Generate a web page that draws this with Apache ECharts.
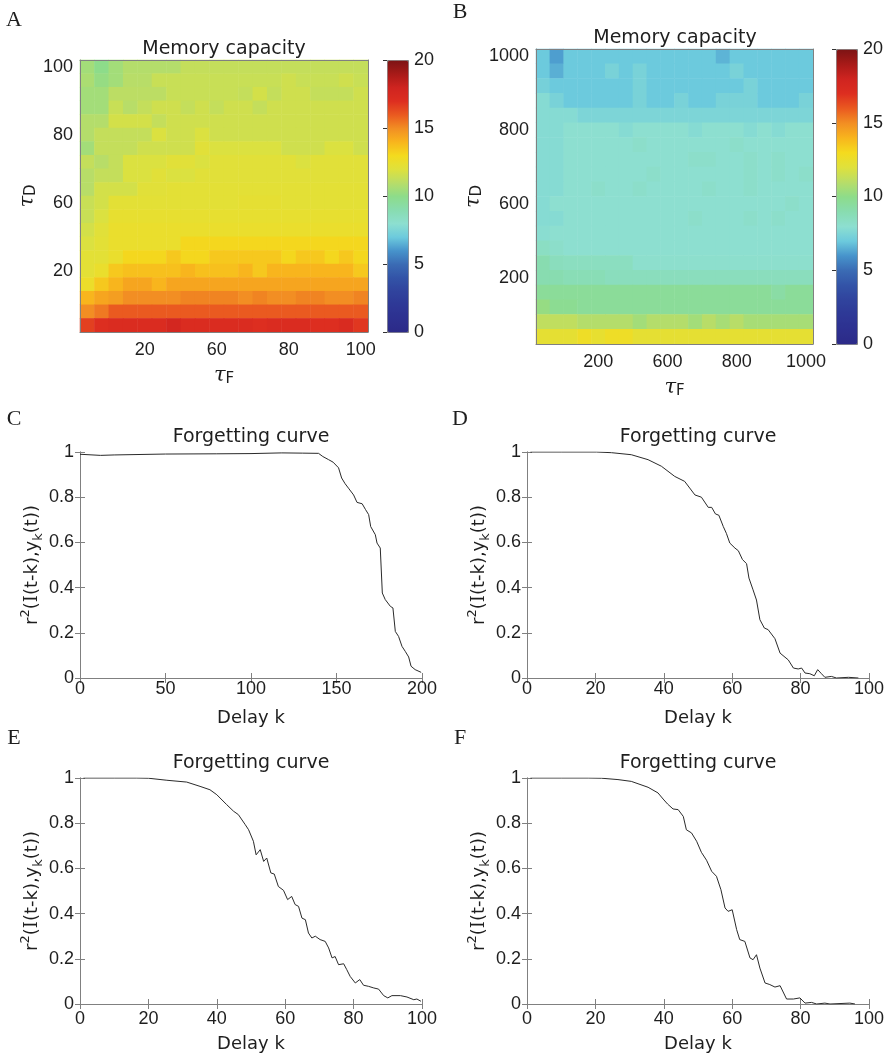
<!DOCTYPE html>
<html>
<head>
<meta charset="utf-8">
<script src="https://cdn.jsdelivr.net/npm/echarts@6/dist/echarts.min.js"></script>
<style>
html, body { margin: 0; padding: 0; background: #fff; }
#main { width: 890px; height: 1060px; }
</style>
</head>
<body>
<div id="main"></div>
<script>
// memory capacity maps, rows from top (largest tau_D) to bottom
var mcA = [
    [10.5,10.0,10.5,10.9,10.9,10.9,10.9,11.3,11.3,11.3,11.3,11.3,11.3,11.3,11.3,11.3,11.3,11.3,11.3,11.3],
    [10.7,10.2,10.5,11.0,11.0,11.4,11.4,11.4,11.4,11.4,11.4,11.4,11.4,11.4,11.6,11.4,11.4,11.4,11.6,11.4],
    [10.5,10.5,11.1,11.1,11.1,11.1,11.4,11.4,11.4,11.4,11.4,11.3,11.7,11.3,11.6,11.6,11.3,11.3,11.3,11.6],
    [10.5,10.5,11.4,11.0,11.3,11.6,11.6,11.3,11.6,11.3,11.6,11.6,11.3,11.6,11.6,11.6,11.6,11.6,11.6,11.6],
    [10.9,10.9,11.7,11.7,11.7,11.3,11.6,11.6,11.6,11.6,11.6,11.6,11.6,11.6,11.6,11.6,11.6,11.6,11.6,11.6],
    [10.9,11.3,11.3,11.3,11.3,11.9,11.6,11.6,11.9,11.6,11.6,11.6,11.6,11.6,11.6,11.6,11.6,11.6,11.6,11.6],
    [10.5,11.3,11.3,11.3,11.6,11.6,11.6,11.6,12.1,11.9,11.9,11.9,11.9,11.9,11.6,11.6,11.6,11.9,11.9,11.6],
    [11.3,11.0,11.3,11.9,11.9,11.9,12.1,12.1,11.9,12.1,12.1,12.1,12.1,12.1,12.1,11.9,12.1,12.1,12.1,12.1],
    [11.0,11.3,11.3,11.9,11.9,12.1,11.9,11.9,12.1,12.1,12.1,12.1,12.1,12.1,12.1,12.1,12.1,12.1,12.1,12.1],
    [11.0,11.7,11.7,11.7,12.1,12.1,12.2,12.2,12.2,12.2,12.2,12.2,12.2,12.2,12.2,12.2,12.2,12.2,12.2,12.2],
    [11.4,11.7,12.2,12.2,12.2,12.2,12.2,12.2,12.2,12.2,12.2,12.3,12.3,12.3,12.2,12.2,12.2,12.2,12.2,12.2],
    [11.4,11.9,12.4,12.4,12.4,12.4,12.4,12.4,12.4,12.4,12.4,12.4,12.4,12.4,12.4,12.4,12.4,12.4,12.4,12.4],
    [11.7,12.1,12.5,12.5,12.5,12.5,12.5,12.5,12.5,12.5,12.5,12.5,12.5,12.5,12.5,12.5,12.5,12.5,12.5,12.5],
    [11.9,12.2,12.5,12.5,12.5,12.5,12.5,13.1,13.1,13.1,13.1,13.1,13.1,13.1,13.1,13.1,13.1,13.1,13.1,13.1],
    [12.2,12.2,12.5,13.1,13.1,13.1,13.5,13.1,13.1,13.5,13.5,13.5,13.5,13.5,13.1,13.5,13.5,13.1,13.5,13.1],
    [12.2,12.5,13.5,13.7,13.7,13.7,13.7,14.0,13.7,13.7,13.7,14.0,13.5,14.0,14.0,14.0,14.0,14.0,14.0,13.5],
    [12.6,13.5,14.0,14.4,14.4,14.0,14.4,14.4,14.4,14.4,14.4,14.4,14.4,14.4,14.4,14.4,14.4,14.4,14.4,14.4],
    [14.0,14.4,14.6,15.0,15.0,15.0,15.0,15.2,15.2,15.2,15.2,15.0,15.2,15.0,15.0,15.2,15.2,15.0,15.0,15.2],
    [15.0,15.4,16.0,16.0,16.0,16.0,16.0,16.0,16.0,16.0,16.0,16.0,16.0,16.0,16.0,16.0,16.0,16.0,16.0,16.0],
    [16.6,17.0,17.2,17.2,17.2,17.2,17.7,17.2,17.2,17.2,17.2,17.2,17.0,17.2,17.2,17.2,17.0,17.0,17.3,16.8]
];
var mcB = [
    [7.0,6.2,7.0,7.0,7.0,7.0,7.0,7.0,7.0,7.0,7.0,7.0,7.0,6.6,7.0,7.0,7.0,7.0,7.0,7.0],
    [7.0,6.5,7.0,7.0,7.0,7.4,7.0,7.4,7.0,7.0,7.0,7.0,7.0,7.0,7.4,7.0,7.0,7.0,7.0,7.0],
    [7.3,7.0,7.0,7.0,7.0,7.0,7.0,7.4,7.0,7.0,7.0,7.0,7.0,7.0,7.0,7.4,7.0,7.0,7.0,7.0],
    [7.8,7.4,7.0,7.0,7.0,7.0,7.0,7.4,7.0,7.0,7.4,7.0,7.0,7.4,7.4,7.4,7.0,7.0,7.0,7.4],
    [7.8,7.8,7.8,7.5,7.5,7.5,7.5,7.5,7.5,7.5,7.5,7.5,7.5,7.5,7.5,7.5,7.5,7.5,7.5,7.5],
    [7.8,7.8,8.0,8.0,8.0,8.0,7.8,8.0,8.0,8.0,8.0,7.8,8.0,8.0,8.0,7.8,8.0,7.8,8.0,8.0],
    [7.8,7.8,8.0,8.0,8.0,8.0,8.0,8.2,8.0,8.0,8.0,8.0,8.0,8.0,8.2,8.0,8.0,8.0,8.0,8.0],
    [7.8,7.8,8.0,8.0,8.0,8.0,8.0,8.0,8.0,8.0,8.0,8.2,8.2,8.0,8.0,8.2,8.0,8.2,8.0,8.0],
    [7.8,7.8,8.0,8.0,8.0,8.0,8.0,8.0,8.2,8.0,8.0,8.0,8.0,8.0,8.0,8.2,8.0,8.2,8.0,8.2],
    [7.8,7.8,8.0,8.0,8.2,8.0,8.0,8.2,8.0,8.0,8.0,8.0,8.2,8.0,8.0,8.2,8.0,8.0,8.0,8.0],
    [7.8,8.0,8.0,8.0,8.0,8.0,8.0,8.0,8.0,8.0,8.0,8.0,8.0,8.0,8.0,8.0,8.0,8.0,8.2,8.0],
    [7.8,7.8,8.0,8.0,8.0,8.0,8.0,8.0,8.0,8.0,8.0,8.2,8.0,8.0,8.0,8.2,8.0,8.2,8.0,8.0],
    [7.9,8.0,8.0,8.0,8.0,8.0,8.0,8.0,8.0,8.0,8.0,8.0,8.0,8.0,8.0,8.0,8.0,8.0,8.0,8.0],
    [8.4,8.2,8.0,8.0,8.0,8.0,8.0,8.0,8.0,8.0,8.0,8.0,8.0,8.0,8.0,8.0,8.0,8.0,8.0,8.0],
    [9.0,8.6,8.5,8.5,8.5,8.5,8.5,8.1,8.1,8.1,8.1,8.1,8.1,8.1,8.1,8.1,8.1,8.1,8.1,8.1],
    [9.0,9.0,8.8,8.8,8.8,8.6,8.6,8.6,8.6,8.6,8.6,8.6,8.6,8.6,8.6,8.6,8.6,8.6,8.6,8.6],
    [9.6,9.6,9.6,9.6,9.6,9.6,9.6,9.6,9.6,9.6,9.6,9.6,9.6,9.6,9.6,9.6,9.6,9.3,9.6,9.6],
    [10.2,9.8,9.8,9.6,9.6,9.6,9.6,9.6,9.6,9.6,9.6,9.6,9.6,9.6,9.6,9.6,9.6,9.6,9.6,9.6],
    [11.2,11.2,11.2,10.9,10.9,10.9,10.9,10.5,10.9,10.9,10.9,10.5,11.0,10.6,11.0,10.6,10.6,10.6,10.6,10.6],
    [12.3,12.3,12.3,12.7,12.4,12.7,12.7,12.3,12.3,12.3,12.3,12.3,12.3,12.3,12.3,12.3,12.3,12.3,12.3,12.3]
];

// tick labels of the 20x20 cells (x from left, y from bottom)
var tickXA = ['', '', '', '', '20', '', '', '', '', '60', '', '', '', '', '80', '', '', '', '', '100'];
var tickYA = ['', '', '', '', '20', '', '', '', '', '60', '', '', '', '', '80', '', '', '', '', '100'];
var tickXB = ['', '', '', '', '200', '', '', '', '', '600', '', '', '', '', '800', '', '', '', '', '1000'];
var tickYB = ['', '', '', '', '200', '', '', '', '', '600', '', '', '', '', '800', '', '', '', '', '1000'];

// colour scale 0..20
var cmap = ['#2c2a87', '#2d3090', '#2e3896', '#30439d', '#3353a7', '#3a6bb4', '#4793cb',
    '#6ccadd', '#8ddfd0', '#88dcb0', '#8ddc8a', '#b8dd68', '#dfe13c', '#f4db1e', '#f8b51d',
    '#f28e23', '#ea5a20', '#dd2e20', '#cf2420', '#a81a18', '#7c1414'];

// forgetting curves
var kC = [0, 12, 20, 50, 80, 100, 118, 130, 139.5, 142, 145.4, 148, 151.2, 153, 155, 157, 160, 162, 165, 167, 168.8, 170, 172.7, 173.7, 175.6, 176.8, 178.5, 181.5, 183, 184.4, 186.3, 188.3, 190.2, 192.2, 193.6, 196, 199.5];
var rC = [0.99, 0.985, 0.987, 0.991, 0.992, 0.993, 0.996, 0.995, 0.994, 0.98, 0.966, 0.955, 0.93, 0.885, 0.86, 0.84, 0.81, 0.777, 0.771, 0.745, 0.723, 0.67, 0.634, 0.597, 0.575, 0.376, 0.347, 0.317, 0.31, 0.206, 0.184, 0.14, 0.118, 0.093, 0.052, 0.037, 0.025];
var kD = [1, 10, 20.3, 24.7, 30.5, 35.4, 39.3, 43.2, 46.1, 49.1, 51, 53, 54, 55.1, 56.1, 57.4, 58.3, 59.3, 60.8, 61.8, 63, 64.2, 64.9, 66.1, 67.1, 68.1, 69.4, 70.5, 72.5, 74, 76.4, 77.9, 79.3, 80.3, 81.3, 82.7, 84, 85, 86.1, 87.1, 89, 90.5, 94, 96.9];
var rD = [1, 1, 1.0, 0.997, 0.988, 0.966, 0.937, 0.892, 0.87, 0.81, 0.80, 0.755, 0.755, 0.726, 0.72, 0.67, 0.64, 0.597, 0.575, 0.563, 0.524, 0.506, 0.442, 0.39, 0.345, 0.258, 0.221, 0.214, 0.174, 0.11, 0.08, 0.044, 0.04, 0.044, 0.022, 0.019, 0.01, 0.037, 0.019, 0.003, 0.007, 0, 0.003, 0];
var kE = [1, 10, 16.6, 20, 25.4, 31.2, 35.1, 38, 40, 42.9, 44.9, 46.3, 48.3, 49.3, 50.7, 51.5, 52.7, 53.7, 54.6, 55.8, 56.8, 58, 59.5, 60.7, 61.9, 62.9, 63.9, 64.9, 65.9, 66.8, 67.8, 68.8, 70.2, 71.7, 72.7, 73.7, 74.6, 75.6, 77.1, 78, 79, 80.5, 81.8, 82.9, 84.4, 85.9, 87.3, 88.8, 90, 91.2, 93.7, 95.6, 97.6, 98.5, 99.7];
var rE = [1, 1, 1.0, 0.999, 0.99, 0.982, 0.963, 0.948, 0.926, 0.882, 0.853, 0.838, 0.794, 0.771, 0.72, 0.66, 0.683, 0.631, 0.646, 0.58, 0.575, 0.52, 0.503, 0.462, 0.476, 0.44, 0.432, 0.38, 0.373, 0.314, 0.292, 0.3, 0.285, 0.277, 0.248, 0.204, 0.21, 0.174, 0.178, 0.152, 0.122, 0.093, 0.108, 0.083, 0.078, 0.071, 0.066, 0.037, 0.027, 0.037, 0.037, 0.031, 0.019, 0.022, 0.012];
var kF = [1, 10, 17.9, 21.8, 26.6, 30.5, 35.4, 38.3, 39.8, 41.1, 42.7, 44.2, 45.7, 46.6, 48.1, 49.6, 51, 52.5, 54, 55.4, 56.7, 57.9, 58.8, 60, 61.3, 62.2, 63.7, 65.2, 66.1, 67.1, 68.1, 69.6, 71, 72.5, 74, 75.9, 77.9, 79.8, 81.3, 83.2, 84.7, 87.1, 88.6, 94.4, 95.9];
var rF = [1, 1, 1.0, 0.999, 0.993, 0.985, 0.959, 0.934, 0.907, 0.885, 0.863, 0.86, 0.83, 0.771, 0.757, 0.72, 0.671, 0.636, 0.587, 0.565, 0.506, 0.425, 0.41, 0.417, 0.329, 0.285, 0.277, 0.204, 0.196, 0.218, 0.159, 0.093, 0.086, 0.075, 0.081, 0.022, 0.022, 0.027, 0.004, 0.007, 0, 0.004, 0, 0.004, 0];

var AX_COLOR = '#808080';
var TXT = '#1e1e1e';
var tickFont = { fontFamily: 'Liberation Sans', fontSize: 18, color: TXT };

var tauRich = {
    t: { fontFamily: 'DejaVu Serif', fontStyle: 'italic', fontSize: 21, lineHeight: 22, verticalAlign: 'top', color: TXT },
    s: { fontFamily: 'DejaVu Sans', fontSize: 15, lineHeight: 15, padding: [12, 0, 0, 0], verticalAlign: 'bottom', color: TXT }
};
var rRich = {
    a: { fontFamily: 'DejaVu Sans', fontSize: 18, lineHeight: 26, color: TXT },
    i: { fontFamily: 'DejaVu Serif', fontSize: 18, lineHeight: 26, color: TXT },
    sup: { fontFamily: 'DejaVu Sans', fontSize: 13, lineHeight: 14, verticalAlign: 'top', color: TXT },
    sub: { fontFamily: 'DejaVu Sans', fontSize: 13, lineHeight: 12, verticalAlign: 'bottom', color: TXT }
};

function cells(n) {
    var a = [];
    for (var i = 0; i < n; i++) a.push(String(i));
    return a;
}

function heatData(m) {
    var out = [];
    var n = m.length;
    for (var r = 0; r < n; r++) {
        for (var c = 0; c < m[r].length; c++) {
            out.push([c, n - 1 - r, m[r][c]]);
        }
    }
    return out;
}

function zip(xs, ys) {
    return xs.map(function(x, i) { return [x, ys[i]]; });
}

var grids = [
    { left: 80, top: 60, width: 288, height: 272 },   // A map
    { left: 536, top: 49, width: 277, height: 295 },  // B map
    { left: 387, top: 60, width: 21, height: 272 },   // A colorbar
    { left: 836, top: 49, width: 21, height: 295 },   // B colorbar
    { left: 80, top: 452, width: 342, height: 226 },  // C
    { left: 527, top: 452, width: 342, height: 226 }, // D
    { left: 80, top: 778, width: 342, height: 226 },  // E
    { left: 527, top: 778, width: 342, height: 226 }  // F
];

var xAxes = [], yAxes = [], series = [];

function mapAxes(gi, tx, ty, yGap) {
    var cats = cells(20);
    xAxes.push({
        type: 'category', gridIndex: gi, data: cats, z: 5,
        axisLine: { lineStyle: { color: AX_COLOR } },
        axisTick: { show: false },
        axisLabel: Object.assign({ interval: 0, margin: 9, formatter: function(v, i) { return tx[i]; } }, tickFont),
        name: '{t|τ}{s|F}', nameLocation: 'middle', nameGap: 33,
        nameTextStyle: { rich: tauRich }
    });
    xAxes.push({
        type: 'category', gridIndex: gi, data: cats, position: 'top', z: 5,
        axisLine: { lineStyle: { color: AX_COLOR } }, axisTick: { show: false }, axisLabel: { show: false }
    });
    yAxes.push({
        type: 'category', gridIndex: gi, data: cats, z: 5,
        axisLine: { lineStyle: { color: AX_COLOR } },
        axisTick: { show: false },
        axisLabel: Object.assign({ interval: 0, margin: 7, formatter: function(v, i) { return ty[i]; } }, tickFont),
        name: '{t|τ}{s|D}', nameLocation: 'middle', nameRotate: 90, nameGap: yGap,
        nameTextStyle: { rich: tauRich }
    });
    yAxes.push({
        type: 'category', gridIndex: gi, data: cats, position: 'right', z: 5,
        axisLine: { lineStyle: { color: AX_COLOR } }, axisTick: { show: false }, axisLabel: { show: false }
    });
}

function barAxes(gi) {
    xAxes.push({ type: 'value', gridIndex: gi, show: false, min: 0, max: 1 });
    yAxes.push({
        type: 'value', gridIndex: gi, min: 0, max: 20, interval: 5, position: 'right', z: 10,
        axisLine: { show: false },
        axisTick: { inside: true, length: 4, lineStyle: { color: '#333' } },
        splitLine: { show: false },
        axisLabel: Object.assign({ margin: 6 }, tickFont)
    });
}

function lineAxes(gi, xmax, xint, lm) {
    var tick = { inside: true, length: 5, lineStyle: { color: AX_COLOR } };
    var line = { lineStyle: { color: AX_COLOR } };
    xAxes.push({
        type: 'value', gridIndex: gi, min: 0, max: xmax, interval: xint,
        axisLine: line, axisTick: tick, splitLine: { show: false },
        axisLabel: Object.assign({ margin: lm }, tickFont),
        name: 'Delay k', nameLocation: 'middle', nameGap: 31,
        nameTextStyle: { fontFamily: 'DejaVu Sans', fontSize: 18, color: TXT }
    });
    xAxes.push({
        type: 'value', gridIndex: gi, min: 0, max: xmax, interval: xint, position: 'top',
        axisLine: line, axisTick: tick, splitLine: { show: false }, axisLabel: { show: false }
    });
    yAxes.push({
        type: 'value', gridIndex: gi, min: 0, max: 1, interval: 0.2,
        axisLine: line, axisTick: tick, splitLine: { show: false },
        axisLabel: Object.assign({ margin: 6 }, tickFont),
        name: '{a|r}{sup|2}{a|(}{i|I}{a|(t-k),y}{sub|k}{a|(t))}',
        nameLocation: 'middle', nameRotate: 90, nameGap: 35,
        nameTextStyle: { rich: rRich }
    });
    yAxes.push({
        type: 'value', gridIndex: gi, min: 0, max: 1, interval: 0.2, position: 'right',
        axisLine: line, axisTick: tick, splitLine: { show: false }, axisLabel: { show: false }
    });
}

// axis index layout: 0,1 A map | 2,3 B map | 4 A bar | 5 B bar | 6.. lines
mapAxes(0, tickXA, tickYA, 41);
mapAxes(1, tickXB, tickYB, 51);
barAxes(2);
barAxes(3);
lineAxes(4, 200, 50, 2);
lineAxes(5, 100, 20, 2);
lineAxes(6, 100, 20, 6);
lineAxes(7, 100, 20, 6);

series.push({ type: 'heatmap', xAxisIndex: 0, yAxisIndex: 0, data: heatData(mcA), itemStyle: { borderWidth: 0 }, animation: false });
series.push({ type: 'heatmap', xAxisIndex: 2, yAxisIndex: 2, data: heatData(mcB), itemStyle: { borderWidth: 0 }, animation: false });

var curves = [[kC, rC], [kD, rD], [kE, rE], [kF, rF]];
curves.forEach(function(cv, i) {
    series.push({
        type: 'line', xAxisIndex: 6 + i * 2, yAxisIndex: 6 + i * 2,
        data: zip(cv[0], cv[1]), showSymbol: false, symbol: 'none',
        lineStyle: { color: '#2a2a2a', width: 1 }, animation: false
    });
});

function colorbar(si, g) {
    return {
        type: 'continuous', seriesIndex: si, min: 0, max: 20,
        inRange: { color: cmap },
        calculable: false, hoverLink: false,
        left: g.left, top: g.top, itemWidth: g.width, itemHeight: g.height,
        padding: 0, borderColor: AX_COLOR, borderWidth: 1,
        text: null, showLabel: false
    };
}

function label(txt, x, y, font, align) {
    return {
        type: 'text', x: x, y: y, silent: true,
        style: { text: txt, font: font, fill: TXT, textAlign: align || 'center', textVerticalAlign: 'middle' }
    };
}

var letterFont = '22px "Liberation Serif"';
var titleFont = '19px "DejaVu Sans"';

var option = {
    backgroundColor: '#fff',
    animation: false,
    grid: grids,
    xAxis: xAxes,
    yAxis: yAxes,
    visualMap: [colorbar(0, grids[2]), colorbar(1, grids[3])],
    series: series,
    graphic: [
        label('A', 14, 20, letterFont),
        label('B', 460, 12, letterFont),
        label('C', 14, 419, letterFont),
        label('D', 460, 419, letterFont),
        label('E', 14, 738, letterFont),
        label('F', 460, 738, letterFont),
        label('Memory capacity', 224, 49, titleFont),
        label('Memory capacity', 675, 38, titleFont),
        label('Forgetting curve', 251, 437, titleFont),
        label('Forgetting curve', 698, 437, titleFont),
        label('Forgetting curve', 251, 763, titleFont),
        label('Forgetting curve', 698, 763, titleFont)
    ]
};

var chart = echarts.init(document.getElementById('main'), null, { renderer: 'canvas' });
chart.setOption(option);
</script>
</body>
</html>
